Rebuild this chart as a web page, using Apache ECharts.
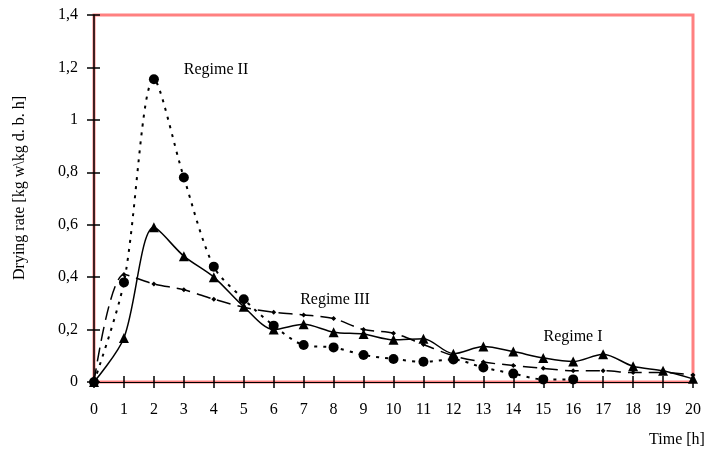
<!DOCTYPE html>
<html>
<head>
<meta charset="utf-8">
<script src="https://cdn.jsdelivr.net/npm/echarts@6/dist/echarts.min.js"></script>
<style>
  html,body{margin:0;padding:0;background:#fff;}
  #chart{width:704px;height:452px;}
</style>
</head>
<body>
<div id="chart"></div>
<script>
// time axis, hours
var hours = [0,1,2,3,4,5,6,7,8,9,10,11,12,13,14,15,16,17,18,19,20];
var yTicks = ['0','0,2','0,4','0,6','0,8','1','1,2','1,4'];

// drying rate [kg w / kg d.b. h]
var regimeI   = [0,0.168,0.59,0.48,0.40,0.287,0.200,0.220,0.190,0.183,0.161,0.165,0.108,0.135,0.116,0.092,0.078,0.106,0.060,0.043,0.012];
var regimeII  = [0,0.38,1.155,0.78,0.44,0.316,0.215,0.141,0.132,0.103,0.088,0.077,0.086,0.055,0.032,0.010,0.010];
var regimeIII = [0,0.41,0.374,0.352,0.316,0.285,0.266,0.256,0.242,0.200,0.186,0.143,0.100,0.076,0.063,0.052,0.043,0.043,0.036,0.036,0.027];

function pairs(vals){
    var out=[]
    vals.forEach(function(v,i){ out.push([hours[i],v]) })
    return out
}

var font = '"Liberation Serif", "DejaVu Serif", serif';
var myChart = echarts.init(document.getElementById('chart'));
var option = {
    animation:false,
    grid:{
        left:94, right:11, top:15, bottom:70,
        show:true, borderColor:'#ff8080', borderWidth:3, backgroundColor:'#fff'
    },
    xAxis:[{
        type:'value', min:0, max:20, interval:1,
        axisLine:{show:true, lineStyle:{color:'#000', width:1}},
        axisTick:{show:true, length:6, lineStyle:{color:'#000', width:1.5}},
        axisLabel:{color:'#000', fontFamily:font, fontSize:16, margin:20},
        splitLine:{show:false}
    },{
        type:'value', min:0, max:20, interval:1, position:'bottom',
        axisLine:{show:false},
        axisTick:{show:true, inside:true, length:6, lineStyle:{color:'#000', width:1.5}},
        axisLabel:{show:false},
        splitLine:{show:false}
    }],
    yAxis:[{
        type:'value', min:0, max:1.4, interval:0.2,
        axisLine:{show:true, lineStyle:{color:'#000', width:1.5}},
        axisTick:{show:true, length:7, lineStyle:{color:'#000', width:1.5}},
        axisLabel:{color:'#000', fontFamily:font, fontSize:16, margin:16,
            formatter:function(v){ return yTicks[Math.round(v/0.2)] }},
        splitLine:{show:false}
    },{
        type:'value', min:0, max:1.4, interval:0.2, position:'left',
        axisLine:{show:false},
        axisTick:{show:true, inside:true, length:6, lineStyle:{color:'#000', width:1.5}},
        axisLabel:{show:false},
        splitLine:{show:false}
    }],
    graphic:[
        {type:'text', x:20, y:188, rotation:Math.PI/2,
         style:{text:'Drying rate [kg w\\kg d. b. h]', font:'16px '+font, fill:'#000', textAlign:'center', textVerticalAlign:'middle'}},
        {type:'text', x:677, y:440,
         style:{text:'Time [h]', font:'16px '+font, fill:'#000', textAlign:'center', textVerticalAlign:'middle'}},
        {type:'text', x:216, y:70,
         style:{text:'Regime II', font:'16px '+font, fill:'#000', textAlign:'center', textVerticalAlign:'middle'}},
        {type:'text', x:335, y:300,
         style:{text:'Regime III', font:'16px '+font, fill:'#000', textAlign:'center', textVerticalAlign:'middle'}},
        {type:'text', x:573, y:337,
         style:{text:'Regime I', font:'16px '+font, fill:'#000', textAlign:'center', textVerticalAlign:'middle'}}
    ],
    series:[{
        name:'Regime III', type:'line', smooth:0.3,
        data:pairs(regimeIII),
        symbol:'diamond', symbolSize:5,
        itemStyle:{color:'#000'},
        lineStyle:{color:'#000', width:1.5, type:[14,7]}
    },{
        name:'Regime II', type:'line', smooth:0.3,
        data:pairs(regimeII),
        symbol:'circle', symbolSize:10,
        itemStyle:{color:'#000'},
        lineStyle:{color:'#000', width:2, type:[3,6]}
    },{
        name:'Regime I', type:'line', smooth:0.3,
        data:pairs(regimeI),
        symbol:'triangle', symbolSize:10,
        itemStyle:{color:'#000'},
        lineStyle:{color:'#000', width:1.5}
    }]
};
myChart.setOption(option);
</script>
</body>
</html>
